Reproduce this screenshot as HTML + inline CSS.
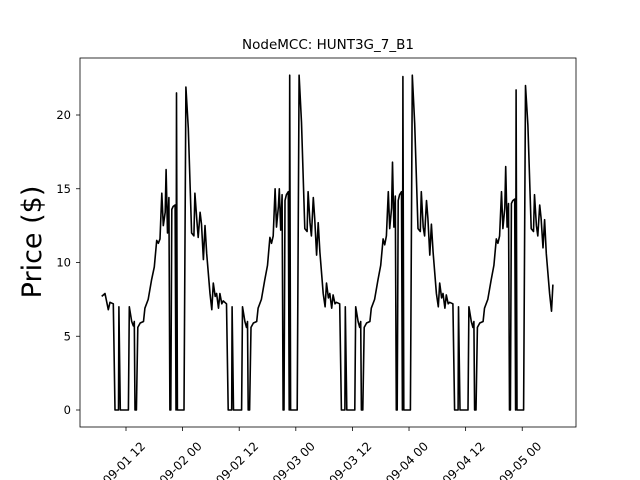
<!DOCTYPE html>
<html><head><meta charset="utf-8"><style>html,body{margin:0;background:#fff;width:640px;height:480px;overflow:hidden}svg{display:block;overflow:hidden;font-family:"DejaVu Sans","Liberation Sans",sans-serif}</style></head>
<body>
<svg id="c" width="640" height="480"></svg>
<script>
const hours = [6.84,7.55,8.25,8.6,9.3,
9.67,10.4,10.5,10.8,12.5,12.7,13.2,13.55,13.75,13.9,14.2,14.5,15.0,15.7,16.0,16.7,17.4,18.0,18.5,18.85,19.2,19.6,19.9,20.3,20.5,20.8,21.1,21.3,21.5,21.7,22.0,22.4,22.6,22.7,22.9,24.3,24.7,25.2,25.9,26.4,26.6,27.0,27.3,27.7,28.0,28.4,28.75,29.1,29.8,30.2,30.5,30.9,31.2,31.6,31.9,32.3,32.6,33.3,
33.67,34.4,34.5,34.8,36.5,36.7,37.2,37.55,37.75,37.9,38.2,38.5,39.0,39.7,40.0,40.7,41.4,42.0,42.5,42.85,43.2,43.6,43.9,44.3,44.5,44.8,45.1,45.3,45.5,45.7,46.0,46.4,46.6,46.7,46.9,48.3,48.7,49.2,49.9,50.4,50.6,51.0,51.3,51.7,52.0,52.4,52.75,53.1,53.8,54.2,54.5,54.9,55.2,55.6,55.9,56.3,56.6,57.3,
57.67,58.4,58.5,58.8,60.5,60.7,61.2,61.55,61.75,61.9,62.2,62.5,63.0,63.7,64.0,64.7,65.4,66.0,66.5,66.85,67.2,67.6,67.9,68.3,68.5,68.8,69.1,69.3,69.5,69.7,70.0,70.4,70.6,70.7,70.9,72.3,72.7,73.2,73.9,74.4,74.6,75.0,75.3,75.7,76.0,76.4,76.75,77.1,77.8,78.2,78.5,78.9,79.2,79.6,79.9,80.3,80.6,81.3,
81.67,82.4,82.5,82.8,84.5,84.7,85.2,85.55,85.75,85.9,86.2,86.5,87.0,87.7,88.0,88.7,89.4,90.0,90.5,90.85,91.2,91.6,91.9,92.3,92.5,92.8,93.1,93.3,93.5,93.7,94.0,94.4,94.6,94.7,94.9,96.3,96.7,97.2,97.9,98.4,98.6,99.0,99.3,99.7,100.0,100.4,100.75,101.1,101.8,102.2,102.5];
const prices = [7.7,7.9,6.8,7.3,7.2,
0,0,7.0,0,0,7.0,6.0,5.7,6.0,0,0,5.6,5.9,6.0,6.9,7.5,8.8,9.7,11.5,11.3,11.6,14.7,12.5,13.4,16.3,12.0,14.4,0,0,13.6,13.8,13.9,0,21.5,0,0,21.9,19.1,12.0,11.8,14.7,12.9,11.7,13.4,12.6,10.2,12.5,10.6,7.9,6.8,8.6,7.7,7.9,6.9,7.9,7.2,7.4,7.2,
0,0,7.0,0,0,7.0,6.0,5.6,6.0,0,0,5.6,5.9,6.0,6.9,7.5,8.8,9.8,11.7,11.3,11.8,15.0,12.4,13.8,15.0,12.2,14.6,0,0,14.2,14.6,14.8,0,22.7,0,0,22.7,19.5,12.3,12.1,14.8,12.7,11.8,14.4,13.0,10.5,12.7,10.7,7.9,7.0,8.6,7.6,7.9,6.9,7.8,7.2,7.3,7.2,
0,0,7.0,0,0,7.0,6.0,5.6,6.0,0,0,5.6,5.9,6.0,6.9,7.5,8.8,9.8,11.6,11.2,11.8,14.8,12.3,13.7,16.8,12.4,14.5,0,0,14.2,14.6,14.8,0,22.6,0,0,22.7,19.4,12.3,12.1,14.8,12.4,11.8,14.2,13.0,10.5,12.6,10.7,7.9,7.0,8.6,7.6,7.9,6.9,7.8,7.2,7.3,7.2,
0,0,7.0,0,0,7.0,6.0,5.6,6.0,0,0,5.6,5.9,6.0,6.9,7.5,8.8,9.8,11.6,11.3,11.8,14.8,12.3,13.7,16.5,12.4,14.0,0,0,14.0,14.2,14.3,0,21.7,0,0,22.0,19.3,12.3,12.1,14.6,12.5,11.8,13.9,13.0,11.0,12.9,10.6,7.9,6.7,8.5];
const yTicks = [0,5,10,15,20];
const xTickHours = [12,24,36,48,60,72,84,96];
const xTickLabels = ["2022-09-01 12","2022-09-02 00","2022-09-02 12","2022-09-03 00","2022-09-03 12","2022-09-04 00","2022-09-04 12","2022-09-05 00"];

const NS="http://www.w3.org/2000/svg", svg=document.getElementById('c');
const L=80,R=576,T=58,B=427;
const xs=h=>126+(h-12)*4.717;
const ys=v=>410-v*14.75;
function mk(tag,attrs,parent){const e=document.createElementNS(NS,tag);for(const k in attrs)e.setAttribute(k,attrs[k]);(parent||svg).appendChild(e);return e;}

const title=mk('text',{x:328,y:49,'text-anchor':'middle','font-size':13.5});
title.textContent='NodeMCC: HUNT3G_7_B1';



const yl=mk('text',{x:0,y:0,'text-anchor':'middle','font-size':27,transform:'translate(41,242) rotate(-90)'});
yl.textContent='Price ($)';



yTicks.forEach(v=>{
  const y=ys(v);
  const t=mk('line',{x1:L-4,x2:L,y1:y,y2:y,stroke:'#000','stroke-width':0.8});
  
  
  const tx=mk('text',{x:L-9,y:y+4,'text-anchor':'end','font-size':11.5});
  tx.textContent=v;
  
  
});
xTickHours.forEach((h,i)=>{
  const x=xs(h);
  const t=mk('line',{x1:x,x2:x,y1:B,y2:B+4,stroke:'#000','stroke-width':0.8});
  
  
  const tx=mk('text',{x:0,y:0,'text-anchor':'end','font-size':12,transform:`translate(${x+20},${B+20}) rotate(-45)`});
  tx.textContent=xTickLabels[i];
  
  
});

const pts=hours.map((h,i)=>xs(h).toFixed(1)+','+ys(prices[i]).toFixed(1)).join(' ');
const line=mk('polyline',{points:pts,fill:'none',stroke:'#000','stroke-width':1.6,'stroke-linejoin':'round'});



const frame=mk('rect',{x:L,y:T,width:R-L,height:B-T,fill:'none',stroke:'#000','stroke-width':0.8});


</script>
</body></html>
